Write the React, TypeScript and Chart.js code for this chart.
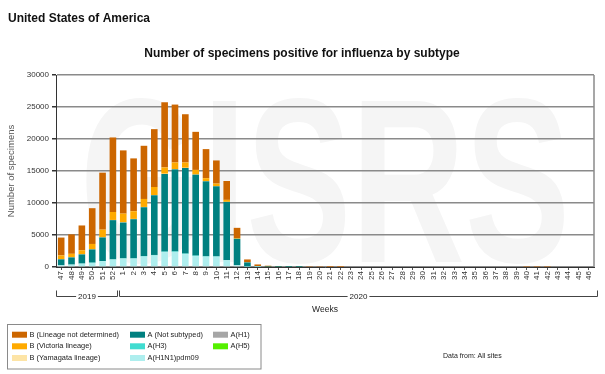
import React, { useEffect, useRef } from "react";
import { Chart, registerables } from "chart.js";

Chart.register(...registerables);

const weeks = [
  "47", "48", "49", "50", "51", "52",
  "1", "2", "3", "4", "5", "6", "7", "8", "9", "10", "11", "12", "13", "14", "15", "16", "17", "18", "19", "20",
  "21", "22", "23", "24", "25", "26", "27", "28", "29", "30", "31", "32", "33", "34", "35", "36", "37", "38", "39", "40",
  "41", "42", "43", "44", "45", "46",
];

// weekly counts (47..52 of 2019, 1..46 of 2020)
const aH1N1pdm09 = [250, 360, 510, 640, 880, 1140, 1300, 1300, 1630, 1800, 2320, 2350, 2020, 1710, 1610, 1610, 1040, 260, 40, 10, 0, 0, 0, 0, 0, 0, 0, 0, 0, 0, 0, 0, 0, 0, 0, 0, 0, 0, 0, 0, 0, 0, 0, 0, 0, 0, 0, 0, 0, 0, 0, 0];
const aH1 = [0, 0, 0, 0, 0, 0, 0, 0, 0, 0, 0, 0, 0, 0, 0, 0, 0, 0, 0, 0, 0, 0, 0, 0, 0, 0, 0, 0, 0, 0, 0, 0, 0, 0, 0, 0, 0, 0, 0, 0, 0, 0, 0, 0, 0, 0, 0, 0, 0, 0, 0, 0];
const aH5 = [0, 0, 0, 0, 0, 0, 0, 0, 0, 0, 0, 0, 0, 0, 0, 0, 0, 0, 0, 0, 0, 0, 0, 0, 0, 0, 0, 0, 0, 0, 0, 0, 0, 0, 0, 0, 0, 0, 0, 0, 0, 0, 0, 0, 0, 0, 0, 0, 0, 0, 0, 0];
const aH3 = [20, 20, 30, 40, 50, 60, 70, 60, 70, 80, 90, 90, 80, 70, 60, 50, 40, 20, 5, 0, 0, 0, 0, 0, 0, 0, 0, 0, 0, 0, 0, 0, 0, 0, 0, 0, 0, 0, 0, 0, 0, 0, 0, 0, 0, 0, 0, 0, 0, 0, 0, 0];
const aNotSubtyped = [930, 1120, 1430, 2070, 3690, 6120, 5580, 6110, 7640, 9330, 12120, 12820, 13370, 12650, 11720, 10950, 9090, 4130, 675, 120, 30, 10, 5, 5, 0, 0, 0, 0, 0, 0, 0, 0, 0, 0, 0, 0, 0, 0, 0, 0, 0, 0, 0, 0, 0, 0, 0, 0, 0, 0, 0, 0];
const bVictoria = [600, 550, 630, 830, 1190, 1240, 1350, 1200, 1250, 1250, 990, 1040, 830, 720, 470, 420, 310, 110, 30, 20, 10, 5, 0, 0, 0, 0, 0, 0, 0, 0, 0, 0, 0, 0, 0, 0, 0, 0, 0, 0, 0, 0, 0, 0, 0, 0, 0, 0, 0, 0, 0, 0];
const bYamagata = [10, 10, 15, 20, 30, 30, 40, 40, 40, 40, 40, 30, 30, 20, 20, 10, 10, 5, 0, 0, 0, 0, 0, 0, 0, 0, 0, 0, 0, 0, 0, 0, 0, 0, 0, 0, 0, 0, 0, 0, 0, 0, 0, 0, 0, 0, 0, 0, 0, 0, 0, 0];
const bNotDetermined = [2790, 3040, 3875, 5590, 8900, 11650, 9880, 8260, 8310, 9040, 10180, 9050, 7540, 5950, 4540, 3610, 2950, 1595, 430, 250, 160, 90, 60, 60, 60, 60, 10, 10, 0, 0, 0, 0, 0, 0, 0, 0, 0, 0, 0, 0, 0, 0, 0, 0, 0, 50, 50, 50, 0, 0, 0, 0];

const yTicks = [0, 5000, 10000, 15000, 20000, 25000, 30000];

const COLORS = {
  bNotDet: "#CC6600",
  bVic: "#FFAA00",
  bYam: "#FDE4A6",
  aNotSub: "#008080",
  aH3: "#40DCD0",
  aPdm: "#AEEEEE",
  aH1: "#A6A6A6",
  aH5: "#55F000",
};

const legendItems = [
  { label: "B (Lineage not determined)", color: COLORS.bNotDet, col: 0, row: 0 },
  { label: "B (Victoria lineage)", color: COLORS.bVic, col: 0, row: 1 },
  { label: "B (Yamagata lineage)", color: COLORS.bYam, col: 0, row: 2 },
  { label: "A (Not subtyped)", color: COLORS.aNotSub, col: 1, row: 0 },
  { label: "A(H3)", color: COLORS.aH3, col: 1, row: 1 },
  { label: "A(H1N1)pdm09", color: COLORS.aPdm, col: 1, row: 2 },
  { label: "A(H1)", color: COLORS.aH1, col: 2, row: 0 },
  { label: "A(H5)", color: COLORS.aH5, col: 2, row: 1 },
];

const FONT = "'Liberation Sans', Arial, sans-serif";

const decorPlugin = {
  id: "decor",
  beforeDraw(chart: any) {
    const ctx = chart.ctx;
    ctx.save();
    ctx.fillStyle = "#ffffff";
    ctx.fillRect(0, 0, chart.width, chart.height);
    // watermark
    ctx.font = `bold 233px ${FONT}`;
    const w = ctx.measureText("GISRS").width;
    const sx = 490 / w;
    ctx.translate(80, 262);
    ctx.scale(sx, 1);
    ctx.fillStyle = "#f5f5f5";
    ctx.textBaseline = "alphabetic";
    ctx.fillText("GISRS", 0, 0);
    ctx.restore();
  },
  beforeDatasetsDraw(chart: any) {
    const ctx = chart.ctx;
    const a = chart.chartArea;
    ctx.save();
    ctx.strokeStyle = "#8a8a8a";
    ctx.lineWidth = 1.5;
    ctx.beginPath();
    ctx.moveTo(a.right, a.top);
    ctx.lineTo(a.right, a.bottom);
    ctx.stroke();
    ctx.restore();
  },
  afterDraw(chart: any) {
    const ctx = chart.ctx;
    const a = chart.chartArea;
    const xs = chart.scales.x;
    ctx.save();
    ctx.fillStyle = "#111";
    ctx.textBaseline = "alphabetic";
    ctx.textAlign = "left";
    ctx.font = `bold 12px ${FONT}`;
    ctx.fillText("United States of America", 8, 22);
    ctx.textAlign = "center";
    ctx.fillText("Number of specimens positive for influenza by subtype", 302, 57);

    // y title
    ctx.save();
    ctx.translate(11, 171);
    ctx.rotate(-Math.PI / 2);
    ctx.font = `9.5px ${FONT}`;
    ctx.fillStyle = "#555";
    ctx.textAlign = "center";
    ctx.textBaseline = "middle";
    ctx.fillText("Number of specimens", 0, 0);
    ctx.restore();

    // year brackets
    const half = (xs.getPixelForValue(1) - xs.getPixelForValue(0)) / 2;
    const y0 = 296.5;
    const drawBracket = (x1: number, x2: number, text: string) => {
      ctx.font = `8px ${FONT}`;
      const tw = ctx.measureText(text).width;
      const cx = (x1 + x2) / 2;
      ctx.strokeStyle = "#444";
      ctx.lineWidth = 1;
      ctx.beginPath();
      ctx.moveTo(x1, y0 - 6);
      ctx.lineTo(x1, y0);
      ctx.lineTo(cx - tw / 2 - 2, y0);
      ctx.moveTo(cx + tw / 2 + 2, y0);
      ctx.lineTo(x2, y0);
      ctx.lineTo(x2, y0 - 6);
      ctx.stroke();
      ctx.fillStyle = "#222";
      ctx.textAlign = "center";
      ctx.textBaseline = "middle";
      ctx.fillText(text, cx, y0);
    };
    drawBracket(Math.round(xs.getPixelForValue(0) - half) + 0.5, Math.round(xs.getPixelForValue(5) + half) - 0.5, "2019");
    drawBracket(Math.round(xs.getPixelForValue(6) - half) + 1.5, Math.round(a.right) + 3.5, "2020");

    ctx.font = `8.5px ${FONT}`;
    ctx.fillStyle = "#222";
    ctx.textAlign = "center";
    ctx.textBaseline = "middle";
    ctx.fillText("Weeks", (a.left + a.right) / 2, 310);

    // legend
    ctx.strokeStyle = "#8a8a8a";
    ctx.lineWidth = 1;
    ctx.strokeRect(7.5, 324.5, 253.5, 44.5);
    const colX = [12, 130, 213];
    const rowY = [334.7, 346.3, 358];
    ctx.font = `7.4px ${FONT}`;
    ctx.textAlign = "left";
    ctx.textBaseline = "middle";
    for (const it of legendItems) {
      const x = colX[it.col];
      const y = rowY[it.row];
      ctx.fillStyle = it.color;
      ctx.fillRect(x, y - 3, 15, 6);
      ctx.fillStyle = "#222";
      ctx.fillText(it.label, x + 17.5, y);
    }

    ctx.font = `7px ${FONT}`;
    ctx.fillText("Data from: All sites", 443, 356);
    ctx.restore();
  },
};

export default function App() {
  const ref = useRef<HTMLCanvasElement | null>(null);
  useEffect(() => {
    document.body.style.margin = "0";
    if (!ref.current) return;
    const mk = (label: string, data: number[], color: string) => ({
      label,
      data,
      backgroundColor: color,
      borderWidth: 0,
      barPercentage: 0.64,
      categoryPercentage: 1,
      stack: "s",
    });
    const chart = new Chart(ref.current, {
      type: "bar",
      data: {
        labels: weeks,
        datasets: [
          mk("A(H1N1)pdm09", aH1N1pdm09, COLORS.aPdm),
          mk("A(H1)", aH1, COLORS.aH1),
          mk("A(H5)", aH5, COLORS.aH5),
          mk("A(H3)", aH3, COLORS.aH3),
          mk("A (Not subtyped)", aNotSubtyped, COLORS.aNotSub),
          mk("B (Yamagata lineage)", bYamagata, COLORS.bYam),
          mk("B (Victoria lineage)", bVictoria, COLORS.bVic),
          mk("B (Lineage not determined)", bNotDetermined, COLORS.bNotDet),
        ],
      },
      plugins: [decorPlugin],
      options: {
        responsive: false,
        animation: false,
        devicePixelRatio: 1,
        layout: { padding: { top: 75, right: 11, left: 0, bottom: 0 } },
        plugins: { legend: { display: false }, title: { display: false }, tooltip: { enabled: false } },
        scales: {
          x: {
            stacked: true,
            afterFit: (s: any) => { s.height = 107; },
            grid: { drawOnChartArea: false, drawTicks: true, tickLength: 3, tickColor: "#555", offset: false },
            border: { color: "#333", width: 1 },
            ticks: {
              autoSkip: false,
              minRotation: 90,
              maxRotation: 90,
              padding: 1,
              color: "#333",
              font: { family: FONT, size: 8 },
            },
          },
          y: {
            stacked: true,
            min: 0,
            max: 30000,
            afterFit: (s: any) => { s.width = 56; },
            afterBuildTicks: (s: any) => { s.ticks = yTicks.map((v) => ({ value: v })); },
            grid: { color: "#8a8a8a", lineWidth: 1.5, tickLength: 4, tickColor: "#333" },
            border: { color: "#333", width: 1 },
            ticks: {
              padding: 3,
              color: "#333",
              font: { family: FONT, size: 8 },
              callback: (v: any) => String(v),
            },
          },
        },
      },
    } as any);
    return () => chart.destroy();
  }, []);
  return (
    <div style={{ position: "absolute", left: 0, top: 0, width: 605, height: 374 }}>
      <canvas ref={ref} width={605} height={374} style={{ width: 605, height: 374 }} />
    </div>
  );
}
